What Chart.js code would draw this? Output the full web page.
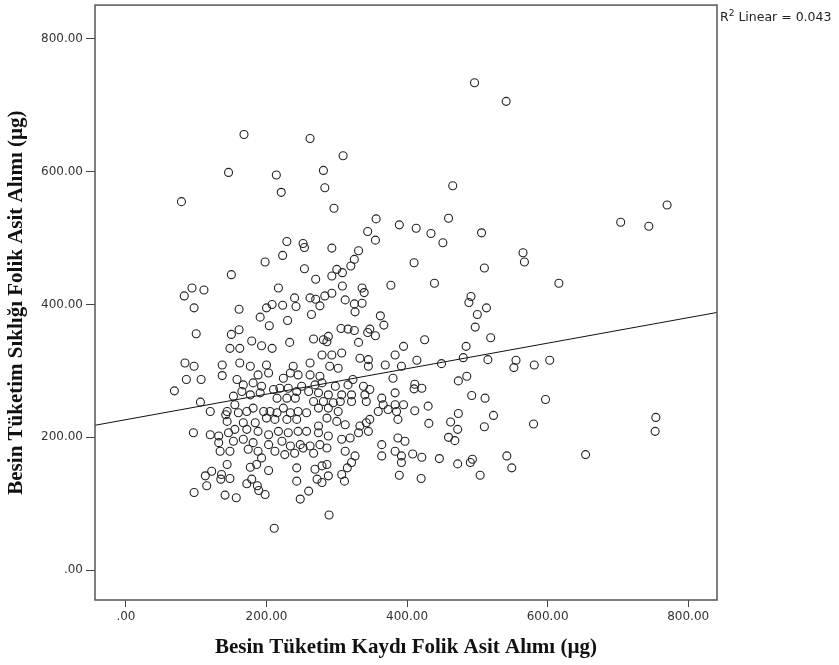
<!DOCTYPE html>
<html>
<head>
<meta charset="utf-8">
<script src="https://cdn.jsdelivr.net/npm/chart.js@4.4.1/dist/chart.umd.min.js"></script>
<style>
  body { margin: 0; background: #fff; }
  #wrap { position: relative; width: 839px; height: 665px; }
  #r2 { position: absolute; left: 720px; top: 8px; font: 12.5px "DejaVu Sans", Verdana, sans-serif; color: #222; white-space: nowrap; }
  #r2 sup { font-size: 9px; }
</style>
</head>
<body>
<div id="wrap">
  <canvas id="chart" width="839" height="665"></canvas>
  <div id="r2">R<sup>2</sup> Linear = 0.043</div>
</div>
<script>
// axis ranges and ticks
const xMin = -44, xMax = 841;
const yMin = -45, yMax = 851;
const xTicks = [0, 200, 400, 600, 800];
const yTicks = [0, 200, 400, 600, 800];

// fit line
const fitIntercept = 226.6;
const fitSlope = 0.192;

// Besin Tüketim Kaydı (x) / Besin Tüketim Sıklığı (y), folik asit µg
const recordVals = [
  496,541,168,262,309,146,214,281,221,283,79,296,465,356,459,389,770,704,744,344,
  413,434,451,506,410,565,567,510,439,616,491,488,513,500,497,519,425,484,480,414,
  449,515,555,552,581,603,485,473,411,410,421,492,511,597,430,411,473,523,431,462,
  472,510,580,754,753,459,468,408,421,446,472,493,490,542,549,504,654,420,
  94,83,97,100,
  229,252,254,223,198,150,254,111,217,240,242,223,208,200,161,191,204,230,161,150,
  233,179,148,162,193,208,
  355,293,331,325,320,300,308,293,270,308,377,336,339,262,270,283,293,276,312,325,
  336,326,264,362,367,306,316,325,347,344,355,267,281,288,286,331,395,
  84,97,86,69,107,106,96,
  137,137,162,177,200,188,203,224,238,245,234,158,167,181,193,165,177,191,210,219,
  231,243,250,215,229,241,153,120,144,142,155,160,172,181,196,205,215,224,234,245,
  200,212,229,243,144,167,184,155,172,188,120,132,146,203,217,231,245,132,153,167,
  181,203,222,234,248,134,148,174,188,193,212,226,240,252,
  279,293,307,333,345,383,262,290,302,345,369,392,262,276,323,380,269,279,298,316,
  338,347,260,274,288,307,321,340,383,267,281,295,305,321,342,364,366,383,395,274,
  288,302,359,373,385,257,286,300,312,347,342,333,387,274,257,274,288,307,319,331,
  345,364,387,397,262,276,286,267,312,326,364,383,392,
  97,
  144,122,113,136,135,148,115,141,157,177,186,172,179,187,189,198,203,243,243,248,211,
  269,279,286,288,272,279,260,307,311,315,321,392,389,289
];
const freqVals = [
  734,706,656,650,624,599,595,602,569,576,555,545,579,529,530,520,550,524,518,510,
  515,507,493,508,463,478,464,455,432,432,412,403,395,385,366,350,347,337,320,316,
  311,317,316,305,309,316,292,285,280,273,274,263,259,257,247,240,236,233,221,223,
  212,216,220,230,209,200,195,175,170,168,160,167,162,172,154,143,174,138,
  425,413,395,356,
  495,492,486,474,464,445,454,422,425,410,397,399,400,395,393,381,368,376,362,355,
  343,345,334,334,338,334,
  497,485,481,468,458,453,448,443,438,428,429,425,418,410,408,413,417,398,407,401,
  402,389,385,383,369,364,363,361,363,358,353,348,347,352,344,343,337,
  312,307,287,270,287,253,207,
  309,293,312,307,309,294,297,289,307,294,297,287,279,282,277,269,264,267,272,274,
  274,269,277,259,259,259,262,239,239,234,249,237,239,244,239,239,237,244,237,239,
  229,227,227,227,224,222,222,212,212,209,204,202,207,204,209,207,209,192,194,197,
  192,189,194,187,189,179,179,182,179,169,179,174,176,184,
  324,324,327,319,317,324,312,307,304,307,309,307,294,292,287,289,279,282,277,279,
  277,272,269,267,264,264,264,264,267,254,254,252,254,254,254,259,249,249,249,244,
  244,239,239,242,239,237,229,224,219,227,222,217,227,217,209,207,202,197,199,207,
  209,189,199,194,187,189,184,176,179,172,172,179,172,
  117,
  159,149,142,144,137,138,127,113,109,155,159,130,137,127,120,114,150,154,134,107,63,
  152,157,159,142,137,132,119,144,134,154,162,162,143,83
];

const points = recordVals.map((x, i) => ({ x, y: freqVals[i] }));
const fitLine = [xMin, xMax].map(x => ({ x, y: fitIntercept + fitSlope * x }));

const fmt = v => v === 0 ? '.00' : v.toFixed(2);
const tickFont = { family: '"DejaVu Sans", Verdana, sans-serif', size: 12 };
const titleFont = { family: '"Liberation Serif", "Times New Roman", serif', size: 21, weight: 'bold' };

// plot frame around the chart area
const framePlugin = {
  id: 'frame',
  afterDatasetsDraw(chart) {
    const { ctx, chartArea: a } = chart;
    ctx.save();
    ctx.strokeStyle = '#555';
    ctx.lineWidth = 1.5;
    ctx.strokeRect(a.left, a.top, a.right - a.left, a.bottom - a.top);
    ctx.restore();
  }
};

// keep the plot box where it is in the picture
function noPad(s) {
  s.paddingTop = 0; s.paddingBottom = 0; s.paddingLeft = 0; s.paddingRight = 0;
}

new Chart(document.getElementById('chart').getContext('2d'), {
  type: 'scatter',
  data: {
    datasets: [
      {
        data: points,
        pointRadius: 4,
        pointBorderWidth: 1.1,
        pointBorderColor: '#222',
        pointBackgroundColor: 'rgba(0,0,0,0)'
      },
      {
        type: 'line',
        data: fitLine,
        borderColor: '#111',
        borderWidth: 1,
        pointRadius: 0,
        fill: false
      }
    ]
  },
  options: {
    responsive: false,
    animation: false,
    devicePixelRatio: 1,
    layout: { padding: { top: 3, right: 122, left: 0, bottom: 0 } },
    plugins: { legend: { display: false }, tooltip: { enabled: false } },
    scales: {
      x: {
        type: 'linear',
        min: xMin, max: xMax,
        afterBuildTicks: s => { s.ticks = xTicks.map(v => ({ value: v })); },
        afterFit: s => { s.height = 65; noPad(s); },
        border: { display: false },
        grid: { drawOnChartArea: false, drawTicks: true, tickLength: 7, color: '#444' },
        ticks: { callback: fmt, font: tickFont, color: '#333', padding: 3, maxRotation: 0 },
        title: { display: true, text: 'Besin Tüketim Kaydı Folik Asit Alımı (µg)', font: titleFont, color: '#111', padding: { bottom: 5 } }
      },
      y: {
        type: 'linear',
        min: yMin, max: yMax,
        afterBuildTicks: s => { s.ticks = yTicks.map(v => ({ value: v })); },
        afterFit: s => { s.width = 95; noPad(s); },
        border: { display: false },
        grid: { drawOnChartArea: false, drawTicks: true, tickLength: 9, color: '#444' },
        ticks: { callback: fmt, font: tickFont, color: '#333', padding: 3 },
        title: { display: true, text: 'Besin Tüketim Sıklığı Folik Asit Alımı (µg)', font: titleFont, color: '#111', padding: { top: 4 } }
      }
    }
  },
  plugins: [framePlugin]
});
</script>
</body>
</html>
